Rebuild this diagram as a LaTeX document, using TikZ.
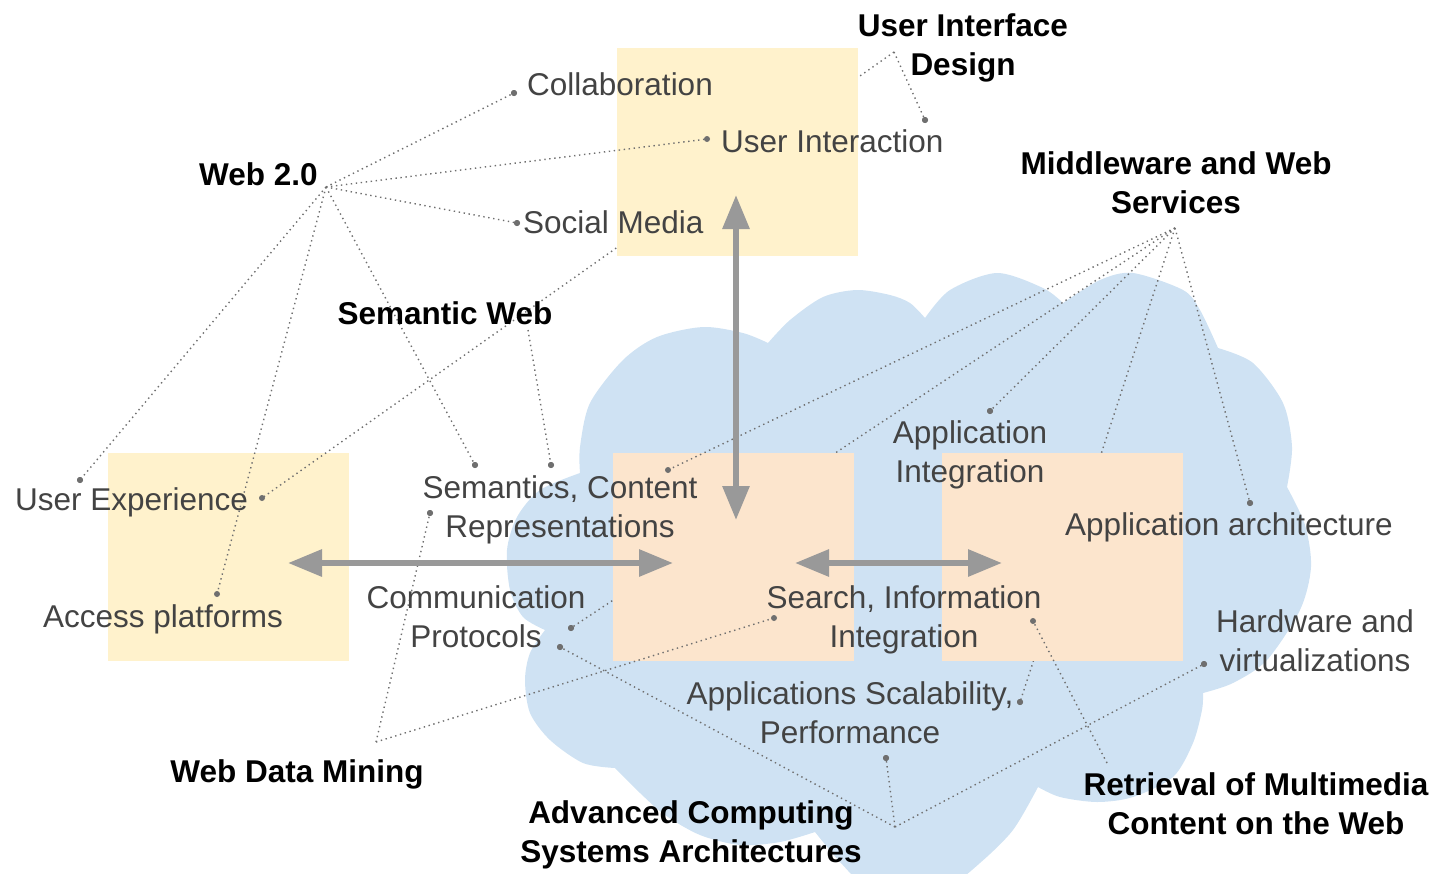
\documentclass[tikz,border=0pt]{standalone}
\usepackage{fontspec}
\setmainfont{Liberation Sans}
\usetikzlibrary{arrows.meta}
\definecolor{cloudc}{HTML}{CFE2F3}
\definecolor{yboxc}{HTML}{FFF2CC}
\definecolor{pboxc}{HTML}{FCE5CD}
\definecolor{labc}{HTML}{434343}
\definecolor{dotc}{HTML}{6F6F6F}
\definecolor{arrc}{HTML}{999999}
\tikzset{
  lab/.style={inner sep=0pt, text=labc, font=\fontsize{31.5}{39}\selectfont, align=center},
  cat/.style={inner sep=0pt, text=black, font=\fontsize{31.5}{39}\selectfont\bfseries, align=center},
  dotl/.style={draw=dotc, line width=1.4pt, dash pattern=on 1.4pt off 3.6pt},
  pt/.style={circle, fill=dotc, inner sep=0pt, minimum size=6pt},
  ybox/.style={fill=yboxc, inner sep=0pt, outer sep=0pt, minimum width=241pt, minimum height=208pt},
  pbox/.style={fill=pboxc, inner sep=0pt, outer sep=0pt, minimum width=241pt, minimum height=208pt},
  bigarrow/.style={draw=arrc, line width=6pt, {Triangle[length=34pt,width=26pt]}-{Triangle[length=34pt,width=26pt]}}
}
\begin{document}
\begin{tikzpicture}[x=1pt,y=-1pt]
\useasboundingbox (0,0) rectangle (1434,873);
% cloud
\fill[cloudc]
 plot[smooth] coordinates {(580,473) (580,447) (590,403) (623,360) (657,337) (703,327) (743,333) (768,343)}
 -- plot[smooth] coordinates {(768,343) (790,320) (823,297) (857,290) (890,295) (910,303) (925,318)}
 -- plot[smooth] coordinates {(925,318) (950,290) (997,273) (1043,288) (1063,303)}
 -- plot[smooth] coordinates {(1063,303) (1100,280) (1133,273) (1183,290) (1200,310) (1218,348)}
 -- plot[smooth] coordinates {(1218,348) (1253,363) (1283,403) (1292,447) (1287,487)}
 -- plot[smooth] coordinates {(1287,487) (1305,525) (1311,567) (1300,610) (1267,660) (1233,683) (1203,693)}
 -- plot[smooth] coordinates {(1203,693) (1202,710) (1193,743) (1173,777) (1133,797) (1097,802) (1060,797) (1038,787)}
 -- plot[smooth] coordinates {(1038,787) (1013,830) (980,863) (950,885) (905,893) (865,885) (840,862) (815,832)}
 -- plot[smooth] coordinates {(815,832) (780,842) (740,845) (700,835) (665,815) (640,793) (615,768)}
 -- plot[smooth] coordinates {(615,768) (583,763) (550,740) (530,713) (525,680) (530,653) (545,630)}
 -- plot[smooth] coordinates {(545,630) (523,617) (510,590) (507,550) (517,517) (540,490) (580,473)}
 -- cycle;
% hubs and dots
\coordinate (hW) at (326,187);
\coordinate (hU) at (894,52);
\coordinate (hM) at (1175,228);
\coordinate (hS) at (528,330);
\coordinate (hD) at (376,742);
\coordinate (hA) at (895,827);
\coordinate (hR) at (1107,763);
\node[pt] (dCollab) at (514,93) {};
\node[pt] (dUI) at (707,139) {};
\node[pt] (dUID) at (925,120) {};
\node[pt] (dSM) at (517,223) {};
\node[pt] (dUXl) at (80,480) {};
\node[pt] (dUX) at (262,498) {};
\node[pt] (dAP) at (217,594) {};
\node[pt] (dSem1) at (475,465) {};
\node[pt] (dSem2) at (551,465) {};
\node[pt] (dCont) at (668,470) {};
\node[pt] (dRep) at (430,513) {};
\node[pt] (dCP1) at (571,628) {};
\node[pt] (dCP2) at (560,647) {};
\node[pt] (dAI) at (990,411) {};
\node[pt] (dAA) at (1250,503) {};
\node[pt] (dSearch) at (774,618) {};
\node[pt] (dInfo) at (1033,621) {};
\node[pt] (dScal) at (1020,702) {};
\node[pt] (dHW) at (1204,664) {};
\node[pt] (dPerf) at (886,758) {};
% left box, then lines hidden by the other boxes
\node[ybox] (leftbox) at (228,557) {};
\draw[dotl] (hU) -- (dUX.center);
\draw[dotl] (hM) -- (dCP1.center);
\draw[dotl] (hM) -- (dScal.center);
\node[ybox] (topbox) at (737.5,152) {};
\node[pbox] (midbox) at (733,557) {};
\node[pbox] (rightbox) at (1062,557) {};
% visible connectors
\draw[dotl] (hW) -- (dCollab.center);
\draw[dotl] (hW) -- (dUI.center);
\draw[dotl] (hW) -- (dSM.center);
\draw[dotl] (hW) -- (dUXl.center);
\draw[dotl] (hW) -- (dAP.center);
\draw[dotl] (hW) -- (dSem1.center);
\draw[dotl] (hU) -- (dUID.center);
\draw[dotl] (hS) -- (dSem2.center);
\draw[dotl] (hM) -- (dCont.center);
\draw[dotl] (hM) -- (dAI.center);
\draw[dotl] (hM) -- (dAA.center);
\draw[dotl] (hD) -- (dRep.center);
\draw[dotl] (hD) -- (dSearch.center);
\draw[dotl] (hA) -- (dPerf.center);
\draw[dotl] (hA) -- (dCP2.center);
\draw[dotl] (hA) -- (dHW.center);
\draw[dotl] (hR) -- (dInfo.center);
% redraw dots on top
\foreach \d in {dCollab,dUI,dUID,dSM,dUXl,dUX,dAP,dSem1,dSem2,dCont,dRep,dCP1,dCP2,dAI,dAA,dSearch,dInfo,dScal,dHW,dPerf}
  \fill[dotc] (\d.center) circle (3pt);
% big arrows
\coordinate (aT) at (736,195);
\coordinate (aB) at (736,520);
\coordinate (aL1) at (288,563);
\coordinate (aL2) at (673,563);
\coordinate (aR1) at (795,563);
\coordinate (aR2) at (1002,563);
\draw[bigarrow] (aT) -- (aB);
\draw[bigarrow] (aL1) -- (aL2);
\draw[bigarrow] (aR1) -- (aR2);
% labels (multi-line nodes: base = baseline of last line)
\node[lab, anchor=base west] (tCollab) at (527,95) {Collaboration};
\node[lab, anchor=base west] (tUI) at (721,152) {User Interaction};
\node[lab, anchor=base west] (tSM) at (523,233) {Social Media};
\node[lab, anchor=base west] (tUX) at (15,510) {User Experience};
\node[lab, anchor=base west] (tAP) at (43,627) {Access platforms};
\node[lab, anchor=base west] (tAA) at (1065,535) {Application architecture};
\node[lab, anchor=base] (tSem) at (560,537) {Semantics, Content\\Representations};
\node[lab, anchor=base] (tCP) at (476,647) {Communication\\Protocols};
\node[lab, anchor=base] (tAI) at (970,482) {Application\\Integration};
\node[lab, anchor=base] (tSearch) at (904,647) {Search, Information\\Integration};
\node[lab, anchor=base] (tHW) at (1315,671) {Hardware and\\virtualizations};
\node[lab, anchor=base] (tScal) at (850,743) {Applications Scalability,\\Performance};
\node[cat, anchor=base] (cUID) at (963,75) {User Interface\\Design};
\node[cat, anchor=base west] (cW) at (199,185) {Web 2.0};
\node[cat, anchor=base] (cM) at (1176,213) {Middleware and Web\\Services};
\node[cat, anchor=base] (cS) at (445,324) {Semantic Web};
\node[cat, anchor=base] (cD) at (297,782) {Web Data Mining};
\node[cat, anchor=base] (cA) at (691,862) {Advanced Computing\\Systems Architectures};
\node[cat, anchor=base] (cR) at (1256,834) {Retrieval of Multimedia\\Content on the Web};
\end{tikzpicture}
\end{document}
